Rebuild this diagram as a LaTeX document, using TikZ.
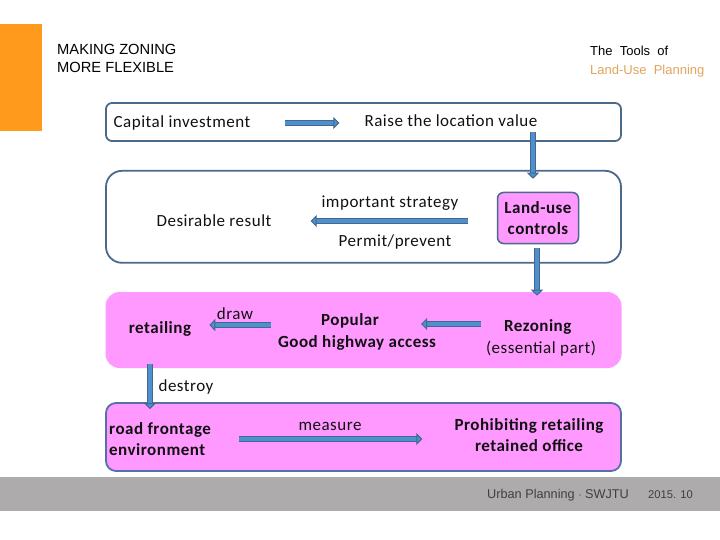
\documentclass[tikz,border=0pt]{standalone}
\usepackage{fontspec}
\setmainfont{Carlito}[LetterSpace=3]
\newfontfamily\headfont{Liberation Sans}
\usetikzlibrary{
  arrows.meta,
  positioning,
  calc,
}
\definecolor{panelline}{HTML}{4A6A8C}
\definecolor{lowline}{HTML}{566FA6}
\definecolor{arrowline}{HTML}{41688F}
\definecolor{arrowfill}{HTML}{4F8FCB}
\definecolor{pinkfill}{HTML}{FF99FF}
\definecolor{bandgray}{HTML}{ADABAC}
\definecolor{barorange}{HTML}{FF9A1C}
\definecolor{logoorange}{HTML}{E2A35C}
\definecolor{inktext}{HTML}{111111}
\tikzstyle{panel} = [
rectangle,
draw=panelline,
line width=1.8pt,
minimum width=515pt,
inner sep=0pt
]
\tikzstyle{pinkpanel} = [
panel,
fill=pinkfill
]
\tikzstyle{plain} = [
inner sep=0pt,
align=center,
text=inktext,
font=\fontsize{17}{21.5}\selectfont
]
\tikzstyle{strong} = [
plain,
font=\fontsize{17}{21.5}\selectfont\bfseries
]
\tikzstyle{headtext} = [
inner sep=0pt,
align=left,
anchor=west,
font=\headfont\fontsize{14.7}{18}\selectfont
]
\tikzstyle{arrow} = [
draw=arrowline,
line width=1pt,
double=arrowfill,
double distance=4pt,
-{Triangle[length=6pt,width=12pt,fill=arrowfill]}
]

\begin{document}
\begin{tikzpicture}[x=1pt, y=-1pt]
  \useasboundingbox (0,0) rectangle (720,540);

  % Page furniture
  \node [fill=barorange, minimum width=42pt, minimum height=107pt, inner sep=0pt] (bar) at (21,77.5) {};
  \node [fill=bandgray, minimum width=720pt, minimum height=34pt, inner sep=0pt] (band) at (360,494) {};
  \node [headtext] (title) at (57,58) {MAKING ZONING\\MORE FLEXIBLE};
  \node [headtext, font=\headfont\fontsize{13}{19}\selectfont] (logo) at (590,62) {The\ \ Tools\ \ of\\\textcolor{logoorange}{Land-Use\ \ Planning}};
  \node [headtext, font=\headfont\fontsize{12.7}{15}\selectfont, text=black!75] (unit) at (487,495) {Urban Planning $\cdot$ SWJTU};
  \node [headtext, font=\headfont\fontsize{11.2}{15}\selectfont, text=black!75] (date) at (648,495) {2015. 10};

  % Place panels
  \node [panel, rounded corners=6pt, minimum height=38pt] (toppanel) at (363.5,122) {};
  \node [panel, rounded corners=16pt, minimum height=92pt, below=28pt of toppanel] (midpanel) {};
  \node [pinkpanel, draw=none, rounded corners=14pt, minimum width=516pt, minimum height=76pt] (pinkband) at (363.5,330) {};
  \node [pinkpanel, draw=lowline, rounded corners=10pt, minimum height=68pt] (lowpanel) at (363.5,437) {};

  % Place labels
  \node [plain] (capital) at (182,123) {Capital investment};
  \node [plain] (raise) at (451,121) {Raise the location value};
  \node [plain] (desirable) at (214,221) {Desirable result};
  \node [plain] (strategy) at (390,203) {important strategy};
  \node [plain] (permit) at (395,242) {Permit/prevent};
  \node [strong, draw=panelline, line width=1.5pt, fill=pinkfill, rounded corners=6pt, minimum width=81pt, minimum height=51pt, text depth=0pt] (landuse) at (538,218) {Land-use\\controls};
  \node [strong] (retailing) at (160,329) {retailing};
  \node [plain] (drawlabel) at (235,314) {draw};
  \node [strong] (popular) at (357,332) {Popular\kern14pt\\Good highway access};
  \node [plain] (rezoning) at (541,338) {\textbf{Rezoning}\kern6pt\\(essential part)};
  \node [plain] (destroy) at (186,387) {destroy};
  \node [strong, align=left, anchor=west] (road) at (109,439) {road frontage\\environment};
  \node [plain] (measure) at (330,426) {measure};
  \node [strong] (prohibit) at (529,435) {Prohibiting retailing\\retained office};

  % Draw edges
  \path [arrow, shorten <=34pt, shorten >=25pt] (capital.east) -- (raise.west |- capital.east);
  \path [arrow, shorten <=5pt, shorten >=13pt] ([xshift=-5pt]raise.south -| landuse.north) -- ([xshift=-5pt]landuse.north);
  \path [arrow, shorten <=-9pt, shorten >=39pt] (strategy.east |- desirable.east) -- (desirable.east);
  \path [arrow, shorten <=4pt, shorten >=24pt] ([xshift=-1pt]landuse.south) -- ([xshift=-1pt]rezoning.north -| landuse.south);
  \path [arrow, shorten <=5pt, shorten >=-15pt] (rezoning.west |- 0,324) -- (popular.east |- 0,324);
  \path [arrow, shorten <=7pt, shorten >=18pt] (popular.west |- 0,325) -- (retailing.east |- 0,325);
  \path [arrow, shorten <=27pt, shorten >=13pt] (retailing.south -| 150,0) -- (road.north -| 150,0);
  \path [arrow, shorten <=28pt, shorten >=32pt] (road.east) -- (prohibit.west |- road.east);

\end{tikzpicture}
\end{document}
